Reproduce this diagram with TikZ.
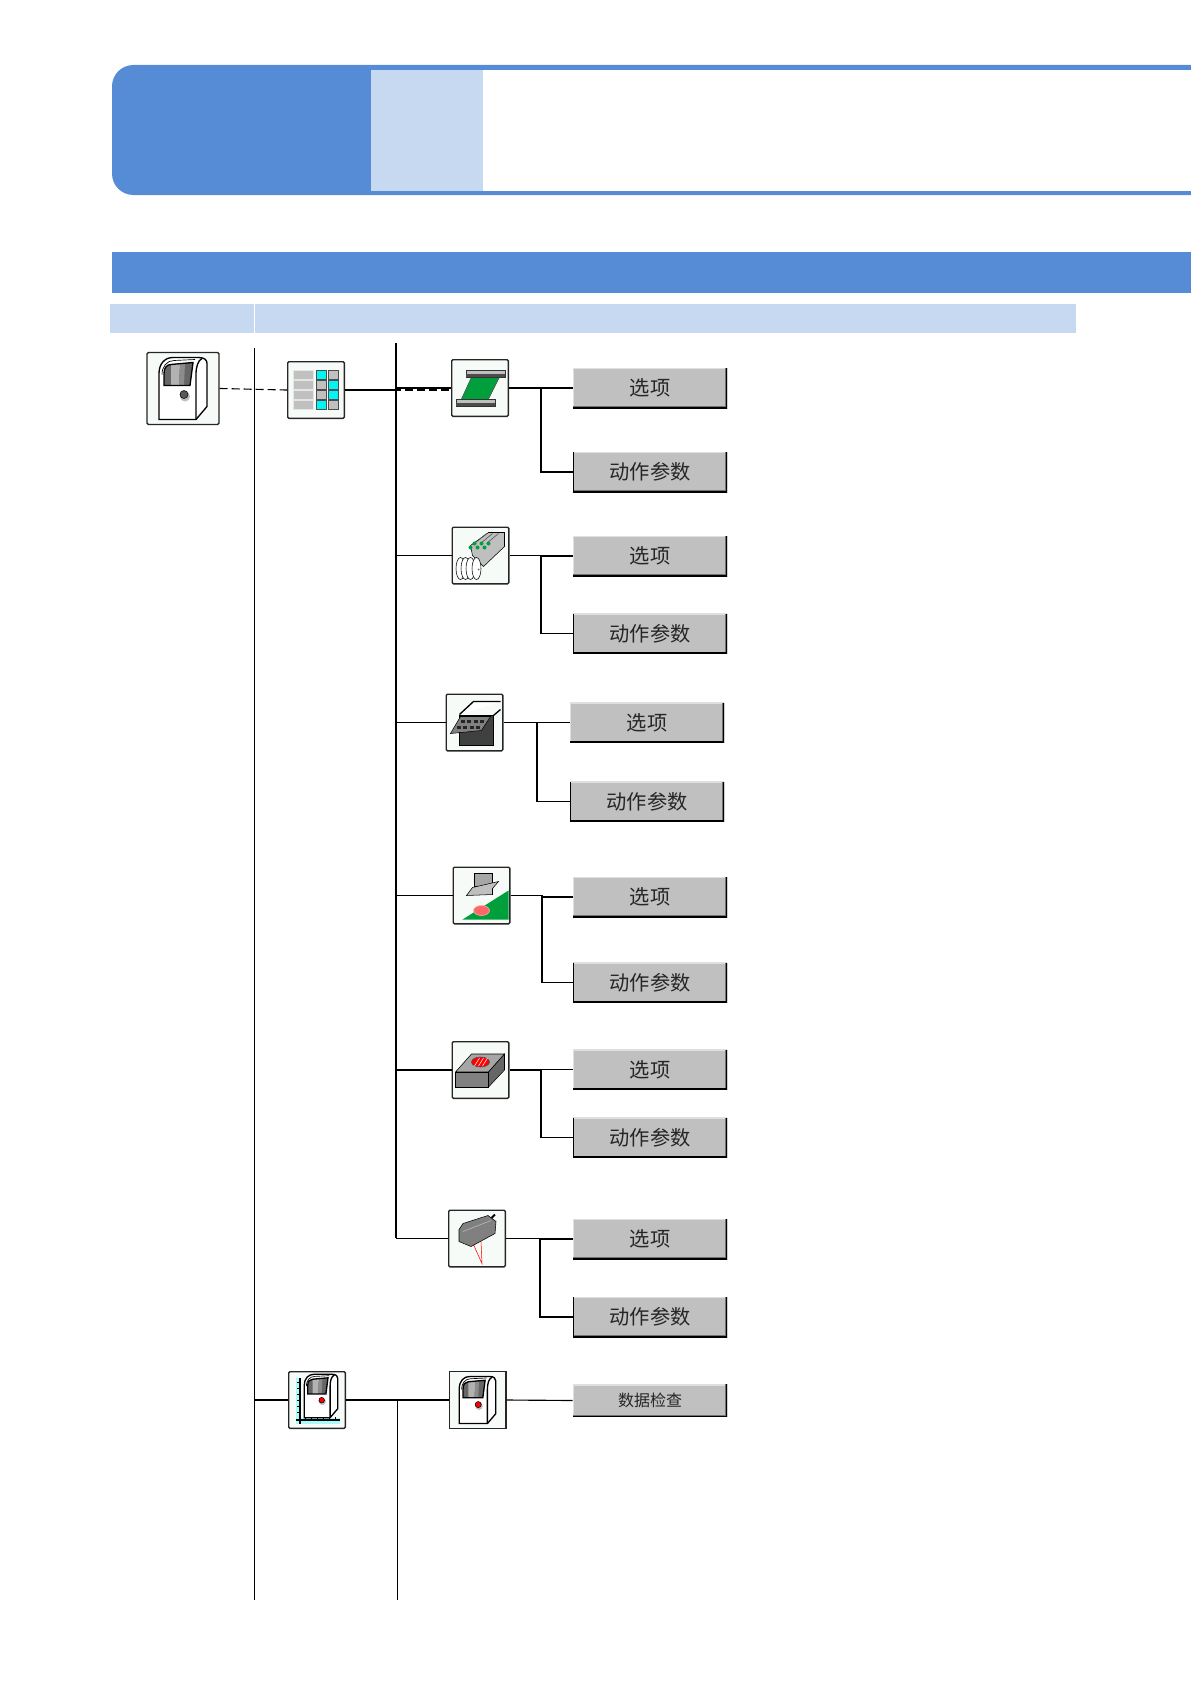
\documentclass[tikz,border=0pt]{standalone}
\usepackage{fontspec}
\newfontfamily\cjk{Noto Sans CJK SC}
\definecolor{hdblue}{HTML}{558CD5}
\definecolor{hdlight}{HTML}{C6D9F1}
\definecolor{btngray}{HTML}{C0C0C0}
\definecolor{iconbg}{HTML}{F7FBF8}
\definecolor{pcbgreen}{HTML}{009F3C}
\definecolor{cellcyan}{HTML}{00F5F5}
\tikzset{
  wire/.style={line width=.85pt,black},
  dashwire/.style={wire,dash pattern=on 6pt off 3pt},
  iconbox/.style={draw=black!85,line width=1pt,fill=iconbg,rounded corners=1pt,minimum width=42.5pt,minimum height=42.5pt,inner sep=0pt},
  btnbase/.style={fill=btngray,minimum width=115.5pt,inner sep=0pt,font=\cjk\fontsize{15.2}{16}\selectfont,text=black!85},
  optbtn/.style={btnbase,minimum height=30pt,path picture={
    \draw[white!75!gray,line width=2.2pt] (path picture bounding box.south west) |- (path picture bounding box.north east);
    \draw[black!55,line width=3pt] (path picture bounding box.south west) -| (path picture bounding box.north east);
    \draw[black,line width=1.6pt] (path picture bounding box.south west) -| (path picture bounding box.north east);
  }},
  parbtn/.style={optbtn,path picture={
    \draw[white!75!gray,line width=2.2pt] (path picture bounding box.north west) -- (path picture bounding box.north east);
    \draw[black!55,line width=3pt] (path picture bounding box.south west) -| (path picture bounding box.north east);
    \draw[black,line width=1.6pt] (path picture bounding box.north west) |- (path picture bounding box.south east) -- (path picture bounding box.north east);
  }},
  iconline/.style={line width=1pt,black},
}
\newcommand{\machineicon}[1]{
  \fill[white] (-24,31) -- (-24,-15) .. controls (-24,-25) and (-18,-31) .. (-10,-31) -- (16,-31) .. controls (22,-31) and (24,-28) .. (24,-25) -- (24,18) -- (13,31) -- cycle;
  \fill[black!60] (-19,-3) -- (-19,-15) .. controls (-19,-21) and (-16,-24) .. (-12,-24) -- (10,-26) -- (7,-3) -- cycle;
  \fill[black!30] (-12,-24) -- (-3,-25) -- (-4,-3) -- (-12,-3) -- cycle;
  \fill[black!45] (-3,-25) -- (2,-25.5) -- (1,-3) -- (-4,-3) -- cycle;
  \draw[iconline] (-19,-3) -- (-19,-15) .. controls (-19,-21) and (-16,-24) .. (-12,-24) -- (10,-26) -- (7,-3) -- cycle;
  \draw[iconline] (-24,31) -- (-24,-15) .. controls (-24,-25) and (-18,-31) .. (-10,-31) -- (16,-31) .. controls (22,-31) and (24,-28) .. (24,-25) -- (24,18) -- (13,31) -- cycle;
  \draw[iconline] (13,31) -- (13,-14) .. controls (13,-22) and (15,-28) .. (19,-30);
  \draw[iconline,line width=.5pt] (-21,-14) .. controls (-21,-22) and (-16,-28) .. (-9,-28) -- (12,-29);
  \fill[black!25] (2,8) circle (5);
  \fill[#1,draw=black] (1,6) circle (4);
}
\begin{document}
\begin{tikzpicture}[x=.75pt,y=-.75pt]
  \useasboundingbox (0,0) rectangle (1190,1684);
  \fill[hdblue] (1192,65) [rounded corners=16pt] -- (112,65) -- (112,195) [sharp corners] -- (1192,195) -- cycle;
  \fill[hdlight] (371,70) rectangle (483,191);
  \fill[white] (483,70) rectangle (1192,191);
  \fill[hdblue] (112,252) rectangle (1192,293);
  \fill[hdlight] (110,304) rectangle (254,333);
  \fill[hdlight] (255,304) rectangle (1076,333);
  \coordinate (trunktop) at (396,343);
  \coordinate (trunkbot) at (396,1238);
  \coordinate (leftbot) at (254.5,1600);
  \coordinate (lefttop) at (254.5,348);
  \coordinate (subtop) at (397.5,1400);
  \coordinate (subbot) at (397.5,1600);
  \draw[wire] (lefttop) -- (leftbot);
  \draw[wire,line width=1.2pt] (trunktop) -- (396,556);
  \draw[wire] (396,556) -- (trunkbot);
  \node[iconbox,minimum width=54pt,minimum height=54pt] (main) at (183,388.5) {};
  \node[iconbox] (table) at (316,390) {};
  \foreach \n/\ix/\iy/\ex/\bx/\oy/\py in {1/480/388/541/650/388/472, 2/480.5/555.5/541/650/556/633.5, 3/474.5/722.5/537/647/722.5/801.5, 4/481.5/895.5/542/650/897/982.5, 5/480.5/1070/541/650/1069.5/1137.5, 6/477/1238.5/540/650/1239/1317}{
    \node[iconbox] (icon\n) at (\ix,\iy) {};
    \node[optbtn] (opt\n) at (\bx,\oy) {选项};
    \node[parbtn] (par\n) at (\bx,\py) {动作参数};
    \coordinate (elbow\n) at (\ex,\iy);
    \draw[wire] (icon\n.east) -- (elbow\n) |- (opt\n.west);
    \draw[wire] (elbow\n) |- (par\n.west);
    \draw[wire] (icon\n.west -| trunktop) -- (icon\n.west);
  }
  \draw[dashwire] (main.east) -- (table.west);
  \draw[wire,line width=1.2pt] (table.east) -- (table.east -| trunktop);
  \draw[dashwire] (table.east) -- ([yshift=-1.5pt]icon1.west);
  \node[iconbox] (check) at (317,1400) {};
  \node[iconbox,rounded corners=0pt] (icon7) at (477.5,1400) {};
  \node[btnbase,minimum height=24.5pt,font=\cjk\fontsize{12}{12}\selectfont,path picture={
    \draw[white!75!gray,line width=2.2pt] (path picture bounding box.south west) |- (path picture bounding box.north east);
    \draw[black!55,line width=3pt] (path picture bounding box.south west) -| (path picture bounding box.north east);
    \draw[black,line width=1.6pt] (path picture bounding box.south west) -| (path picture bounding box.north east);
  }] (data) at (650,1400.5) {数据检查};
  \draw[wire] (254.5,1400) -- (check.west);
  \draw[wire] (check.east) -- (icon7.west);
  \draw[wire] (icon7.east) -- (data.west);
  \draw[wire] (subtop) -- (subbot);
  \begin{scope}[shift={(main.center)}]
    \machineicon{black!65}
  \end{scope}
  \begin{scope}[shift={(table.center)}]
    \foreach \r in {0,1,2,3}{
      \fill[btngray,draw=white!80!gray] (-23,-19.5+10*\r) rectangle (-3,-10.8+10*\r);
    }
    \foreach \r/\ca/\cb in {0/cellcyan/btngray,1/btngray/cellcyan,2/btngray/cellcyan,3/cellcyan/btngray}{
      \fill[\ca,draw=black!70] (0,-19.5+10*\r) rectangle (10,-10.8+10*\r);
      \fill[\cb,draw=black!70] (12,-19.5+10*\r) rectangle (22,-10.8+10*\r);
    }
  \end{scope}
  \begin{scope}[shift={(icon1.center)}]
    \fill[pcbgreen,draw=black!70] (-8,-12) -- (20,-12) -- (8,12) -- (-19,12) -- cycle;
    \fill[black!25,draw=black!80] (-14,-18) rectangle (25,-11);
    \fill[black!70] (-14,-14) rectangle (25,-11);
    \fill[black!25,draw=black!80] (-24,11) rectangle (15,18);
    \fill[black!70] (-24,15) rectangle (15,18);
  \end{scope}
  \begin{scope}[shift={(icon2.center)}]
    \fill[black!25,draw=black] (-10,-10) -- (8,-23) -- (24,-23) -- (24,-9) -- (3,11) -- (-8,0) -- cycle;
    \foreach \a in {0,6,12}{
      \draw[black!70] (-6+\a,-12) -- (6+\a,-22);
    }
    \foreach \a in {0,7,14}{
      \fill[pcbgreen] (-10+\a,-8) circle (2);
      \fill[pcbgreen] (-6+\a,-12) circle (2);
    }
    \foreach \a in {-20,-15,-10,-4}{
      \fill[white,draw=black] (\a,13) ellipse (4.5 and 11);
    }
    \fill[black!60] (-2,14) circle (1);
  \end{scope}
  \begin{scope}[shift={(icon3.center)}]
    \draw[iconline,fill=white] (-15,-8) -- (-1,-21) -- (26,-21) (26,-13) -- (19,-7);
    \fill[black!75,draw=black] (-15,-7) rectangle (19,23);
    \fill[black!50,draw=black] (-24,11) -- (-14,-6) -- (16,-6) -- (7,8) -- cycle;
    \foreach \c in {0,1,2,3}{
      \fill[black!85] (-14+6.5*\c,-3) rectangle +(4,3);
      \fill[black!85] (-18+6.5*\c,3) rectangle +(4,3);
    }
  \end{scope}
  \begin{scope}[shift={(icon4.center)}]
    \fill[pcbgreen] (-19,24) -- (27,-5) -- (27,24) -- cycle;
    \fill[red!60,draw=red!30] (0,15) ellipse (8 and 5);
    \fill[black!35,draw=black] (-7,-22) rectangle (11,-9);
    \fill[black!25,draw=black] (-15,0) -- (-9,-8) -- (17,-14) -- (11,-7) -- (11,-1) -- cycle;
  \end{scope}
  \begin{scope}[shift={(icon5.center)}]
    \fill[black!35,draw=black] (-25,2) -- (-9,-16) -- (24,-16) -- (8,2) -- cycle;
    \fill[black!50,draw=black] (-25,2) rectangle (8,17);
    \fill[black!60,draw=black] (8,2) -- (24,-16) -- (24,0) -- (8,17) -- cycle;
    \fill[red,draw=black!70] (0,-8) ellipse (9 and 5);
    \foreach \a in {-5,-1,3}{
      \draw[white] (\a-1,-4) -- (\a+4,-12);
    }
  \end{scope}
  \begin{scope}[shift={(icon6.center)}]
    \draw[iconline,line width=1.4pt] (13,-19) -- (18,-24);
    \draw[red] (-4,5) -- (5,25) -- (4,3);
    \fill[black!50,draw=black] (-18,-9) -- (-14,-15) -- (11,-23) -- (19,-17) -- (18,-5) -- (-6,8) -- (-18,3) -- cycle;
    \draw[black!25] (-14,-7) -- (14,-18);
  \end{scope}
  \begin{scope}[shift={(icon7.center)},scale=.76]
    \machineicon{red}
  \end{scope}
  \begin{scope}[shift={(check.center)}]
    \fill[cellcyan!35] (-21,-22) rectangle (-17,21);
    \fill[cellcyan!35] (-21,18) rectangle (23,24);
    \draw[iconline] (-17,-22) -- (-17,24);
    \draw[iconline] (-21,20) -- (23,20);
    \foreach \t in {-18,-12,-6,0,6,12}{
      \draw[black,line width=.6pt] (-20,\t) -- (-17,\t);
    }
    \foreach \t in {-12,-6,0,6,12,18}{
      \draw[black,line width=.6pt] (\t,17) -- (\t,20);
    }
    \begin{scope}[shift={(4,-4)},scale=.7]
      \machineicon{red}
    \end{scope}
  \end{scope}
\end{tikzpicture}
\end{document}
